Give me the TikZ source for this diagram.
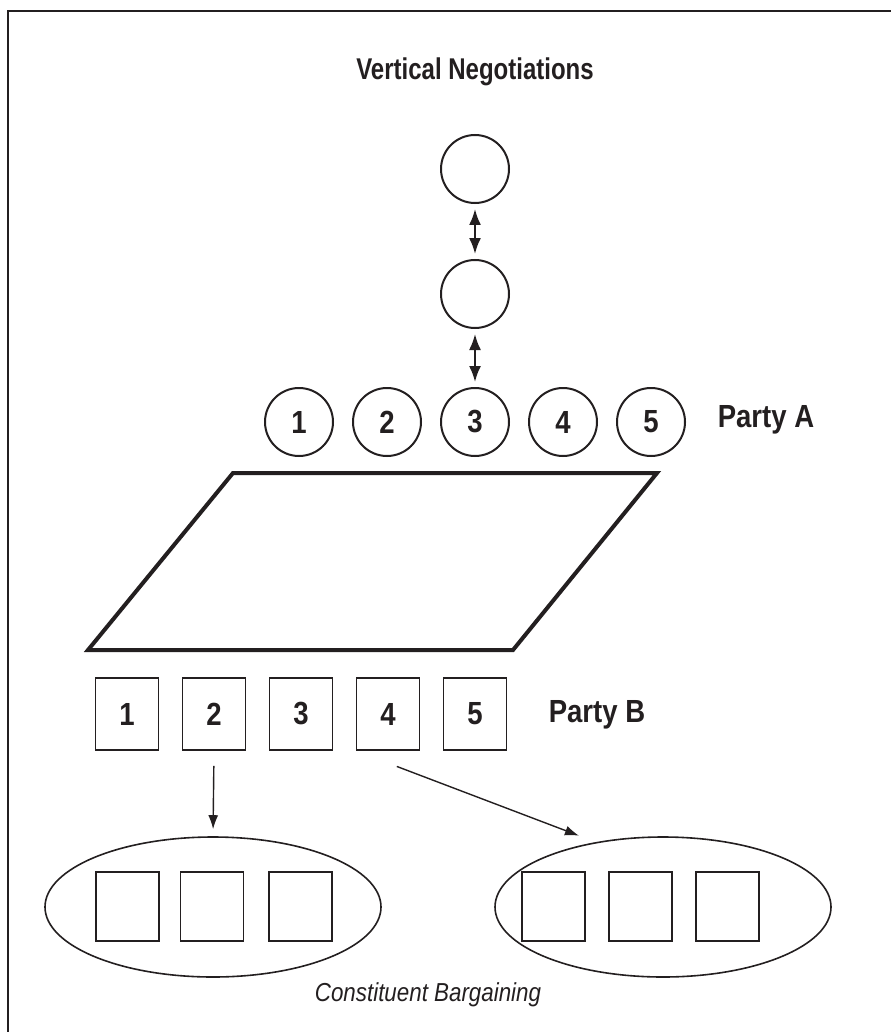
\documentclass[tikz,border=0pt]{standalone}
\usepackage{fontspec}
\setmainfont{Liberation Sans}[FakeStretch=0.86]
\definecolor{inkgrey}{RGB}{35,31,32}
\usetikzlibrary{positioning,arrows.meta,shapes.geometric}

\begin{document}
\begin{tikzpicture}[x=0.5pt,y=-0.5pt,
    every node/.style={font=\bfseries\fontsize{16}{18}\selectfont,text=inkgrey},
    member/.style={circle,draw=inkgrey,line width=1pt,minimum size=34pt,inner sep=0pt},
    seat/.style={rectangle,draw=inkgrey,line width=0.8pt,minimum width=31.5pt,minimum height=36pt,inner sep=0pt},
    subseat/.style={seat,minimum height=34.5pt},
    crowd/.style={ellipse,draw=inkgrey,line width=0.8pt,minimum width=168pt,minimum height=70pt,inner sep=0pt},
    twoway/.style={inkgrey,line width=1pt,{Latex[length=8pt,width=6pt]}-{Latex[length=8pt,width=6pt]},shorten <=2.5pt,shorten >=2.5pt},
    link/.style={inkgrey,line width=0.7pt,-{Latex[length=7pt,width=5pt]}}]
  \useasboundingbox (0,0) rectangle (891,1032);
  % frame
  \draw[inkgrey,line width=1.25pt] (8,1032) -- (8,11) -- (891,11);

  \node (title) at (475,72) {\fontsize{15}{17}\selectfont\addfontfeature{FakeStretch=0.8}Vertical Negotiations};

  % party A: chain of negotiators on top of its members
  \node[member] (ntop) at (475,169) {};
  \node[member] (nmid) at (475,294) {};
  \foreach \i in {1,...,5}
    \node[member] (a\i) at (299+88*\i-88,422) {\i};
  \node (partyA) at (766,420) {Party A};
  \draw[twoway] (ntop) -- (nmid);
  \draw[twoway] (nmid) -- (a3);

  % bargaining table
  \draw[inkgrey,line width=2pt] (233,473) -- (657,473) -- (513,650) -- (88,650) -- cycle;

  % party B
  \foreach \i in {1,...,5}
    \node[seat] (b\i) at (127+87*\i-87,714) {\i};
  \node (partyB) at (597,715) {Party B};

  % constituents
  \node[crowd] (e1) at (213,907) {};
  \node[crowd] (e2) at (663,907) {};
  \foreach \i/\x in {1/127.5,2/212,3/300.5}
    \node[subseat] (c\i) at (\x,906.5) {};
  \foreach \i/\x in {1/553.5,2/640.5,3/727.5}
    \node[subseat] (d\i) at (\x,906.5) {};
  \draw[link,shorten <=7.5pt,shorten >=3.5pt] (b2.south) -- (e1.north);
  \draw[link,shorten <=22pt,shorten >=9pt] (b4.south west) -- (e2.136);

  \node[font=\itshape\fontsize{13}{15}\selectfont] (caption) at (428,995) {Constituent Bargaining};
\end{tikzpicture}
\end{document}
